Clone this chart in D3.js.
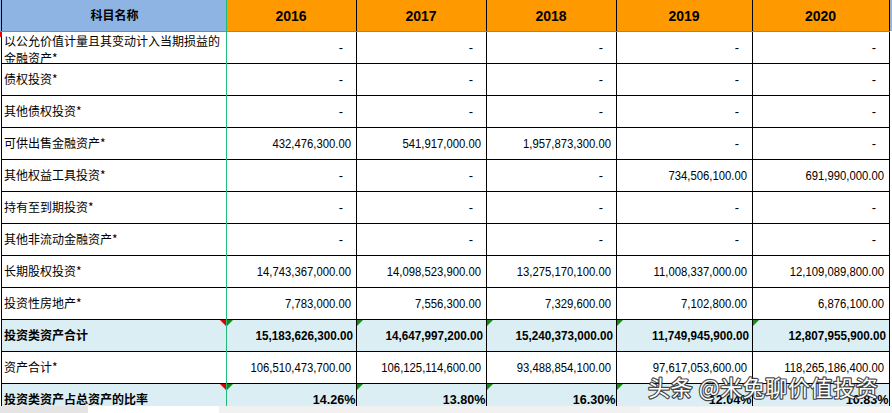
<!DOCTYPE html>
<html>
<head>
<meta charset="utf-8">
<script src="https://cdn.jsdelivr.net/npm/d3@7/dist/d3.min.js"></script>
<style>
html,body{margin:0;padding:0;background:#fff;overflow:hidden;}
svg{display:block;}
</style>
</head>
<body>
<svg id="chart" width="892" height="413"></svg>
<script>
// ---------- data ----------
const headerLabel = "科目名称";
const years = ["2016", "2017", "2018", "2019", "2020"];
const rowLabels = [
  ["以公允价值计量且其变动计入当期损益的", "金融资产*"],
  ["债权投资*"],
  ["其他债权投资*"],
  ["可供出售金融资产*"],
  ["其他权益工具投资*"],
  ["持有至到期投资*"],
  ["其他非流动金融资产*"],
  ["长期股权投资*"],
  ["投资性房地产*"],
  ["投资类资产合计"],
  ["资产合计*"],
  ["投资类资产占总资产的比率"]
];
const v2016 = [null, null, null, 432476300, null, null, null, 14743367000, 7783000, 15183626300, 106510473700];
const v2017 = [null, null, null, 541917000, null, null, null, 14098523900, 7556300, 14647997200, 106125114600];
const v2018 = [null, null, null, 1957873300, null, null, null, 13275170100, 7329600, 15240373000, 93488854100];
const v2019 = [null, null, null, null, 734506100, null, null, 11008337000, 7102800, 11749945900, 97617053600];
const v2020 = [null, null, null, null, 691990000, null, null, 12109089800, 6876100, 12807955900, 118265186400];
const ratios = [14.26, 13.80, 16.30, 12.04, 10.83];
const highlightRows = [9, 11];
const watermark = "头条 @米兔聊价值投资";

const seriesByYear = { "2016": v2016, "2017": v2017, "2018": v2018, "2019": v2019, "2020": v2020 };

// ---------- layout ----------
const svg = d3.select("#chart");
const W = 892, H = 413;
const headerH = 31, rowH = 32, tableBottom = 406;
const colLeft = d3.scaleOrdinal().domain(["label", ...years]).range([1, 226, 356, 486, 616, 752]);
const colRight = d3.scaleOrdinal().domain(["label", ...years]).range([226, 356, 486, 616, 752, 889]);
const y = d3.scaleBand().domain(d3.range(rowLabels.length)).range([headerH, headerH + rowH * rowLabels.length]).padding(0);

const numFmt = d3.format(",.2f");
const cjk = "'Noto Sans CJK SC','Noto Sans',sans-serif";
const latin = "'Liberation Sans',Arial,sans-serif";

// header
const hdr = svg.append("g");
hdr.append("rect").attr("x", 0).attr("y", 0).attr("width", colRight("label")).attr("height", headerH).attr("fill", "#8DB4E2");
hdr.append("rect").attr("x", colLeft("2016")).attr("y", 0).attr("width", colRight("2020") - colLeft("2016")).attr("height", headerH).attr("fill", "#FF9900");
hdr.append("rect").attr("x", colRight("2020") + 1).attr("y", 0).attr("width", W - colRight("2020") - 1).attr("height", headerH).attr("fill", "#9AB3D6");
hdr.append("text").attr("x", (colLeft("label") + colRight("label")) / 2 + 1).attr("y", 20)
  .attr("text-anchor", "middle").attr("font-family", cjk).attr("font-weight", "bold").attr("font-size", 12).attr("fill", "#000").text(headerLabel);
hdr.selectAll("text.yr").data(years).join("text").attr("class", "yr")
  .attr("x", d => (colLeft(d) + colRight(d)) / 2).attr("y", 20.5)
  .attr("text-anchor", "middle").attr("font-family", latin).attr("font-weight", "bold").attr("font-size", 14).attr("fill", "#000").text(d => d);

// rows background
const rows = svg.append("g");
rows.selectAll("rect").data(d3.range(rowLabels.length)).join("rect")
  .attr("x", 1).attr("y", d => y(d)).attr("width", colRight("2020") - 1).attr("height", y.bandwidth())
  .attr("fill", d => highlightRows.includes(d) ? "#DAEEF3" : "#FFFFFF");

// grid lines
const grid = svg.append("g").attr("shape-rendering", "crispEdges");
grid.selectAll("line.h").data(d3.range(1, rowLabels.length)).join("line").attr("class", "h")
  .attr("x1", 1).attr("x2", colRight("2020") + 1)
  .attr("y1", d => y(d) + 0.5).attr("y2", d => y(d) + 0.5)
  .attr("stroke", "#000").attr("stroke-width", 1);
grid.selectAll("line.v").data(years.slice(1)).join("line").attr("class", "v")
  .attr("x1", d => colLeft(d) + 0.5).attr("x2", d => colLeft(d) + 0.5)
  .attr("y1", 0).attr("y2", tableBottom)
  .attr("stroke", "#000").attr("stroke-width", 1);
grid.append("line").attr("x1", colRight("2020") + 0.5).attr("x2", colRight("2020") + 0.5).attr("y1", 0).attr("y2", tableBottom).attr("stroke", "#000");
grid.append("line").attr("x1", 1.5).attr("x2", 1.5).attr("y1", 0).attr("y2", tableBottom).attr("stroke", "#000");
grid.append("line").attr("x1", 0).attr("x2", colRight("2020") + 1).attr("y1", headerH + 0.5).attr("y2", headerH + 0.5).attr("stroke", "#2BB58A");
grid.append("line").attr("x1", colRight("label") + 0.5).attr("x2", colRight("label") + 0.5).attr("y1", 0).attr("y2", tableBottom).attr("stroke", "#1FB97A");
grid.append("rect").attr("x", 0).attr("y", headerH + 1).attr("width", 2).attr("height", 5).attr("fill", "#E00000");

// row labels
const labels = svg.append("g");
rowLabels.forEach((lines, i) => {
  const bold = highlightRows.includes(i);
  const t = labels.append("text").attr("font-family", cjk).attr("font-size", 12)
    .attr("font-weight", bold ? "bold" : "normal").attr("fill", "#000");
  if (lines.length === 1) {
    t.append("tspan").attr("x", 4).attr("y", y(i) + y.bandwidth() / 2 + 4.5).text(lines[0]);
  } else {
    t.append("tspan").attr("x", 4).attr("y", y(i) + 15).text(lines[0]);
    t.append("tspan").attr("x", 4).attr("y", y(i) + 31.5).text(lines[1]);
  }
});

// values
const vals = svg.append("g");
years.forEach((yr, j) => {
  const series = seriesByYear[yr];
  series.forEach((v, i) => {
    const bold = highlightRows.includes(i);
    const cy = y(i) + y.bandwidth() / 2 + 4.5;
    if (v === null) {
      vals.append("text").attr("x", colRight(yr) - 13).attr("y", cy).attr("text-anchor", "end")
        .attr("font-family", latin).attr("font-size", 13).attr("fill", "#000").text("-");
    } else {
      const xr = colRight(yr) - (bold ? 3 : 5);
      vals.append("text").attr("transform", `translate(${xr},${cy}) scale(${bold ? 0.9 : 0.87},1)`)
        .attr("text-anchor", "end").attr("font-family", latin).attr("font-size", 13)
        .attr("font-weight", bold ? "bold" : "normal").attr("fill", "#000").text(numFmt(v));
    }
  });
  const ri = rowLabels.length - 1;
  vals.append("text").attr("transform", `translate(${colRight(yr) - 0.5},${y(ri) + 21}) scale(0.97,1)`)
    .attr("text-anchor", "end").attr("font-family", latin).attr("font-size", 13).attr("font-weight", "bold")
    .attr("fill", "#000").text(d3.format(".2f")(ratios[j]) + "%");
});

// indicators (comment / error triangles)
const marks = svg.append("g");
highlightRows.forEach(i => {
  const top = y(i) + 1;
  const xr = colRight("label");
  marks.append("path").attr("d", `M${xr - 6},${top}L${xr},${top}L${xr},${top + 6}Z`).attr("fill", "#E00000");
  years.forEach(yr => {
    const xl = colLeft(yr) + 1;
    marks.append("path").attr("d", `M${xl},${top}L${xl + 6},${top}L${xl},${top + 6}Z`).attr("fill", "#1A8A1A");
  });
});

// bottom sheet-tab bar
const bar = svg.append("g");
bar.append("rect").attr("x", 0).attr("y", tableBottom).attr("width", W).attr("height", H - tableBottom).attr("fill", "#F1F1F1");
bar.append("rect").attr("x", 0).attr("y", tableBottom).attr("width", 88).attr("height", H - tableBottom).attr("fill", "#E4E4E4");
bar.append("rect").attr("x", 88).attr("y", tableBottom).attr("width", 131).attr("height", H - tableBottom).attr("fill", "#FFFFFF");
bar.append("rect").attr("x", 640).attr("y", tableBottom + 1).attr("width", W - 640).attr("height", H - tableBottom).attr("fill", "#F7F7F7");

// watermark
svg.append("text").attr("x", 648).attr("y", 396)
  .attr("font-family", cjk).attr("font-size", 22).attr("letter-spacing", 0.6).attr("fill", "#FFFFFF")
  .attr("stroke", "rgba(40,40,40,0.85)").attr("stroke-width", 2.4).attr("paint-order", "stroke")
  .attr("stroke-linejoin", "round").text(watermark);
</script>
</body>
</html>
